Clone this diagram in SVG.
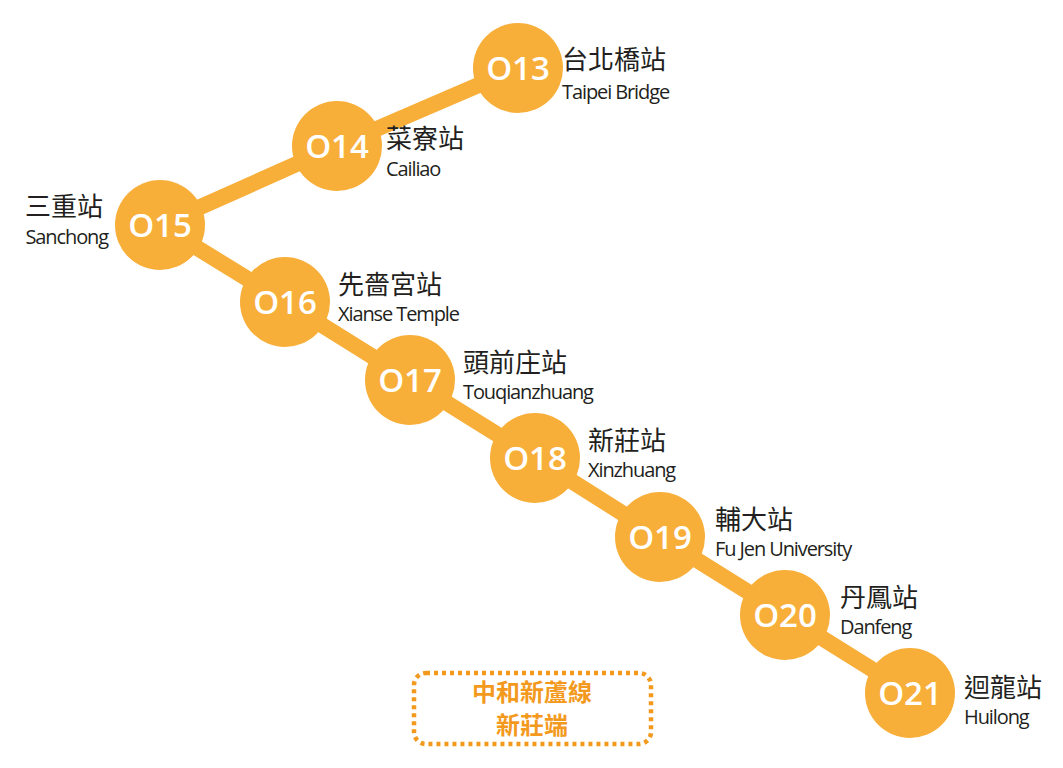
<svg xmlns="http://www.w3.org/2000/svg" width="1063" height="768" viewBox="0 0 1063 768">
<style>
.st circle{fill:#F8AF3A}
.num{font-family:"Open Sans","Noto Sans",sans-serif;font-weight:600;font-size:33px;fill:#fff;text-anchor:middle}
.zh{font-family:"Noto Sans CJK TC","Noto Sans CJK SC",sans-serif;font-size:26px;fill:#231f20}
.en{font-family:"Open Sans","Noto Sans",sans-serif;font-size:20px;fill:#231f20;letter-spacing:-1.1px}
.r{text-anchor:end}
.box{font-family:"Noto Sans CJK TC","Noto Sans CJK SC",sans-serif;font-size:24px;font-weight:700;fill:#F39A1E;text-anchor:middle}
</style>
<rect width="1063" height="768" fill="#fff"/>
<g id="connectors" stroke="#F8AF3A" stroke-width="16" fill="none">
<polyline points="518,68 337,146 160,225 285,302 410,380 535,458 660,537 785,615 910,693"/>
</g>
<g id="O13" class="st"><circle cx="518" cy="68" r="45"/><text class="num" x="518" y="80">O13</text><text class="zh" x="562" y="69">台北橋站</text><text class="en" x="562" y="99">Taipei Bridge</text></g>
<g id="O14" class="st"><circle cx="337" cy="146" r="45"/><text class="num" x="337" y="158">O14</text><text class="zh" x="386" y="148">菜寮站</text><text class="en" x="386" y="176">Cailiao</text></g>
<g id="O15" class="st"><circle cx="160" cy="225" r="45"/><text class="num" x="160" y="237">O15</text><text class="zh r" x="103" y="216">三重站</text><text class="en r" x="108" y="244">Sanchong</text></g>
<g id="O16" class="st"><circle cx="285" cy="302" r="45"/><text class="num" x="285" y="314">O16</text><text class="zh" x="338" y="294">先嗇宮站</text><text class="en" x="338" y="321">Xianse Temple</text></g>
<g id="O17" class="st"><circle cx="410" cy="380" r="45"/><text class="num" x="410" y="392">O17</text><text class="zh" x="463" y="372">頭前庄站</text><text class="en" x="463" y="399">Touqianzhuang</text></g>
<g id="O18" class="st"><circle cx="535" cy="458" r="45"/><text class="num" x="535" y="470">O18</text><text class="zh" x="588" y="450">新莊站</text><text class="en" x="588" y="477">Xinzhuang</text></g>
<g id="O19" class="st"><circle cx="660" cy="537" r="45"/><text class="num" x="660" y="549">O19</text><text class="zh" x="715" y="529">輔大站</text><text class="en" x="715" y="556">Fu Jen University</text></g>
<g id="O20" class="st"><circle cx="785" cy="615" r="45"/><text class="num" x="785" y="627">O20</text><text class="zh" x="840" y="607">丹鳳站</text><text class="en" x="840" y="634">Danfeng</text></g>
<g id="O21" class="st"><circle cx="910" cy="693" r="45"/><text class="num" x="910" y="705">O21</text><text class="zh" x="964" y="697">迴龍站</text><text class="en" x="964" y="724">Huilong</text></g>
<g id="label">
<rect x="414" y="673" width="237" height="71" rx="12" fill="none" stroke="#F39A1E" stroke-width="4.5" stroke-dasharray="4,4"/>
<text class="box" x="532" y="701">中和新蘆線</text>
<text class="box" x="532" y="734">新莊端</text>
</g>
</svg>
